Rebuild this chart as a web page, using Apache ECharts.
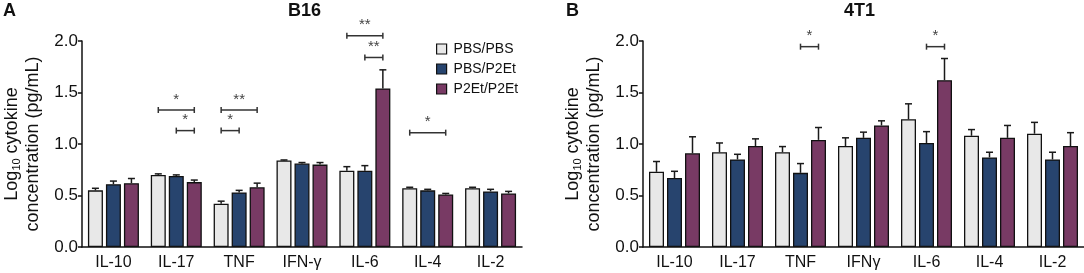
<!DOCTYPE html>
<html>
<head>
<meta charset="utf-8">
<script src="https://cdn.jsdelivr.net/npm/echarts@6/dist/echarts.min.js"></script>
<style>
  html, body { margin: 0; padding: 0; background: #fff; }
  #chart { width: 1084px; height: 273px; }
</style>
</head>
<body>
<div id="chart"></div>
<script>
// categories
var catsB16 = ['IL-10', 'IL-17', 'TNF', 'IFN-γ', 'IL-6', 'IL-4', 'IL-2'];
var cats4T1 = ['IL-10', 'IL-17', 'TNF', 'IFNγ', 'IL-6', 'IL-4', 'IL-2'];
var groups = ['PBS/PBS', 'PBS/P2Et', 'P2Et/P2Et'];

// B16 means / SEM (log10 pg/mL)
var b16PbsPbs = [0.55, 0.70, 0.42, 0.84, 0.74, 0.57, 0.57];
var b16PbsP2et = [0.61, 0.69, 0.53, 0.81, 0.74, 0.55, 0.54];
var b16P2etP2et = [0.62, 0.63, 0.58, 0.80, 1.54, 0.51, 0.52];
var b16PbsPbsErr = [0.02, 0.01, 0.025, 0.005, 0.04, 0.01, 0.01];
var b16PbsP2etErr = [0.03, 0.01, 0.02, 0.01, 0.05, 0.01, 0.02];
var b16P2etP2etErr = [0.045, 0.02, 0.04, 0.02, 0.18, 0.01, 0.02];

// 4T1 means / SEM
var t41PbsPbs = [0.73, 0.92, 0.92, 0.98, 1.24, 1.08, 1.10];
var t41PbsP2et = [0.67, 0.85, 0.72, 1.06, 1.01, 0.87, 0.85];
var t41P2etP2et = [0.91, 0.98, 1.04, 1.18, 1.62, 1.06, 0.98];
var t41PbsPbsErr = [0.10, 0.09, 0.055, 0.08, 0.15, 0.06, 0.11];
var t41PbsP2etErr = [0.065, 0.05, 0.09, 0.055, 0.11, 0.05, 0.07];
var t41P2etP2etErr = [0.16, 0.07, 0.12, 0.045, 0.21, 0.12, 0.13];

// significance brackets: [category, from group, to group, y level, stars]
var b16Sig = [
  [1, 0, 2, 1.33, 1], [1, 1, 2, 1.13, 1],
  [2, 0, 2, 1.33, 2], [2, 0, 1, 1.13, 1],
  [4, 0, 2, 2.05, 2], [4, 1, 2, 1.84, 2],
  [5, 0, 2, 1.11, 1]
];
var t41Sig = [
  [2, 1, 2, 1.945, 1], [4, 1, 2, 1.945, 1]
];

var colors = ['#e8e8e8', '#27446e', '#783a64'];
var BAR_W = 15, BAR_STEP = 18;
var font = 'Liberation Sans, Arial, sans-serif';

function errData(mean, err) {
  return mean.map(function (m, i) { return [i, m, err[i]]; });
}

function errSeries(idx, mean, err, g) {
  return {
    type: 'custom', xAxisIndex: g, yAxisIndex: g, z: 1, silent: true,
    data: errData(mean, err),
    renderItem: function (params, api) {
      var b = api.coord([api.value(0), api.value(1)]);
      var t = api.coord([api.value(0), api.value(1) + api.value(2)]);
      var x = b[0] + (idx - 1) * BAR_STEP;
      var st = { stroke: '#1a1a1a', lineWidth: 1.5 };
      return {
        type: 'group', children: [
          { type: 'line', shape: { x1: x, y1: b[1], x2: x, y2: t[1] }, style: st },
          { type: 'line', shape: { x1: x - 3.5, y1: t[1], x2: x + 3.5, y2: t[1] }, style: st }
        ]
      };
    }
  };
}

function sigSeries(data, g) {
  return {
    type: 'custom', xAxisIndex: g, yAxisIndex: g, z: 5, silent: true, clip: false,
    data: data,
    renderItem: function (params, api) {
      var p = api.coord([api.value(0), api.value(3)]);
      var x1 = p[0] + (api.value(1) - 1) * BAR_STEP;
      var x2 = p[0] + (api.value(2) - 1) * BAR_STEP;
      var y = p[1];
      var st = { stroke: '#333', lineWidth: 1.5 };
      return {
        type: 'group', children: [
          { type: 'line', shape: { x1: x1, y1: y, x2: x2, y2: y }, style: st },
          { type: 'line', shape: { x1: x1, y1: y - 3, x2: x1, y2: y + 3 }, style: st },
          { type: 'line', shape: { x1: x2, y1: y - 3, x2: x2, y2: y + 3 }, style: st },
          { type: 'text', x: (x1 + x2) / 2, y: y - 3,
            style: { text: '*'.repeat(api.value(4)), fill: '#444', font: '15px ' + font,
                     align: 'center', verticalAlign: 'bottom' } }
        ]
      };
    }
  };
}

function barSeries(idx, vals, g) {
  return {
    name: groups[idx], type: 'bar', xAxisIndex: g, yAxisIndex: g, z: 2,
    barWidth: BAR_W, barGap: '20%',
    itemStyle: { color: colors[idx], borderColor: '#111', borderWidth: 1.3 },
    data: vals
  };
}

var yName = '{n|Log}{s|10}{n| cytokine}\n{n|concentration (pg/mL)}';

function yAxis(g) {
  return {
    type: 'value', gridIndex: g, min: 0, max: 2, interval: 0.5,
    name: yName, nameLocation: 'middle', nameGap: 38,
    nameTextStyle: {
      rich: {
        n: { fontSize: 18, fontFamily: font, color: '#111', lineHeight: 21 },
        s: { fontSize: 11, fontFamily: font, color: '#111', padding: [9, 0, 0, 0] }
      }
    },
    axisLine: { show: true, lineStyle: { color: '#111', width: 1.5 } },
    axisTick: { show: true, length: 4, lineStyle: { color: '#111', width: 1.5 } },
    axisLabel: { fontSize: 17, fontFamily: font, color: '#111', margin: 4,
      formatter: function (v) { return v.toFixed(1); } },
    splitLine: { show: false }
  };
}

function xAxis(g, cats) {
  return {
    type: 'category', gridIndex: g, data: cats,
    axisLine: { show: true, lineStyle: { color: '#111', width: 1.5 } },
    axisTick: { show: false },
    axisLabel: { fontSize: 16, fontFamily: font, color: '#111', margin: 8, interval: 0 }
  };
}

var chart = echarts.init(document.getElementById('chart'), null, { renderer: 'canvas' });

var titleStyle = { fontSize: 18, fontWeight: 'bold', fontFamily: font, color: '#111' };

var option = {
  backgroundColor: '#fff',
  animation: false,
  title: [
    { text: 'A', left: 3, top: 2, padding: 0, textStyle: titleStyle },
    { text: 'B16', left: 288, top: 2, padding: 0, textStyle: titleStyle },
    { text: 'B', left: 566, top: 2, padding: 0, textStyle: titleStyle },
    { text: '4T1', left: 844, top: 2, padding: 0, textStyle: titleStyle }
  ],
  legend: {
    data: groups, orient: 'vertical', left: 436, top: 42, padding: 0,
    itemWidth: 10, itemHeight: 10, itemGap: 6, icon: 'rect',
    itemStyle: { borderColor: '#111', borderWidth: 1.2 },
    textStyle: { fontSize: 14, fontFamily: font, color: '#111', padding: [0, 0, 0, 2] }
  },
  grid: [
    { left: 82, top: 41, width: 440, height: 206 },
    { left: 643, top: 41, width: 441, height: 206 }
  ],
  xAxis: [xAxis(0, catsB16), xAxis(1, cats4T1)],
  yAxis: [yAxis(0), yAxis(1)],
  series: [
    barSeries(0, b16PbsPbs, 0), barSeries(1, b16PbsP2et, 0), barSeries(2, b16P2etP2et, 0),
    errSeries(0, b16PbsPbs, b16PbsPbsErr, 0),
    errSeries(1, b16PbsP2et, b16PbsP2etErr, 0),
    errSeries(2, b16P2etP2et, b16P2etP2etErr, 0),
    sigSeries(b16Sig, 0),
    barSeries(0, t41PbsPbs, 1), barSeries(1, t41PbsP2et, 1), barSeries(2, t41P2etP2et, 1),
    errSeries(0, t41PbsPbs, t41PbsPbsErr, 1),
    errSeries(1, t41PbsP2et, t41PbsP2etErr, 1),
    errSeries(2, t41P2etP2et, t41P2etP2etErr, 1),
    sigSeries(t41Sig, 1)
  ]
};

chart.setOption(option);
</script>
</body>
</html>
